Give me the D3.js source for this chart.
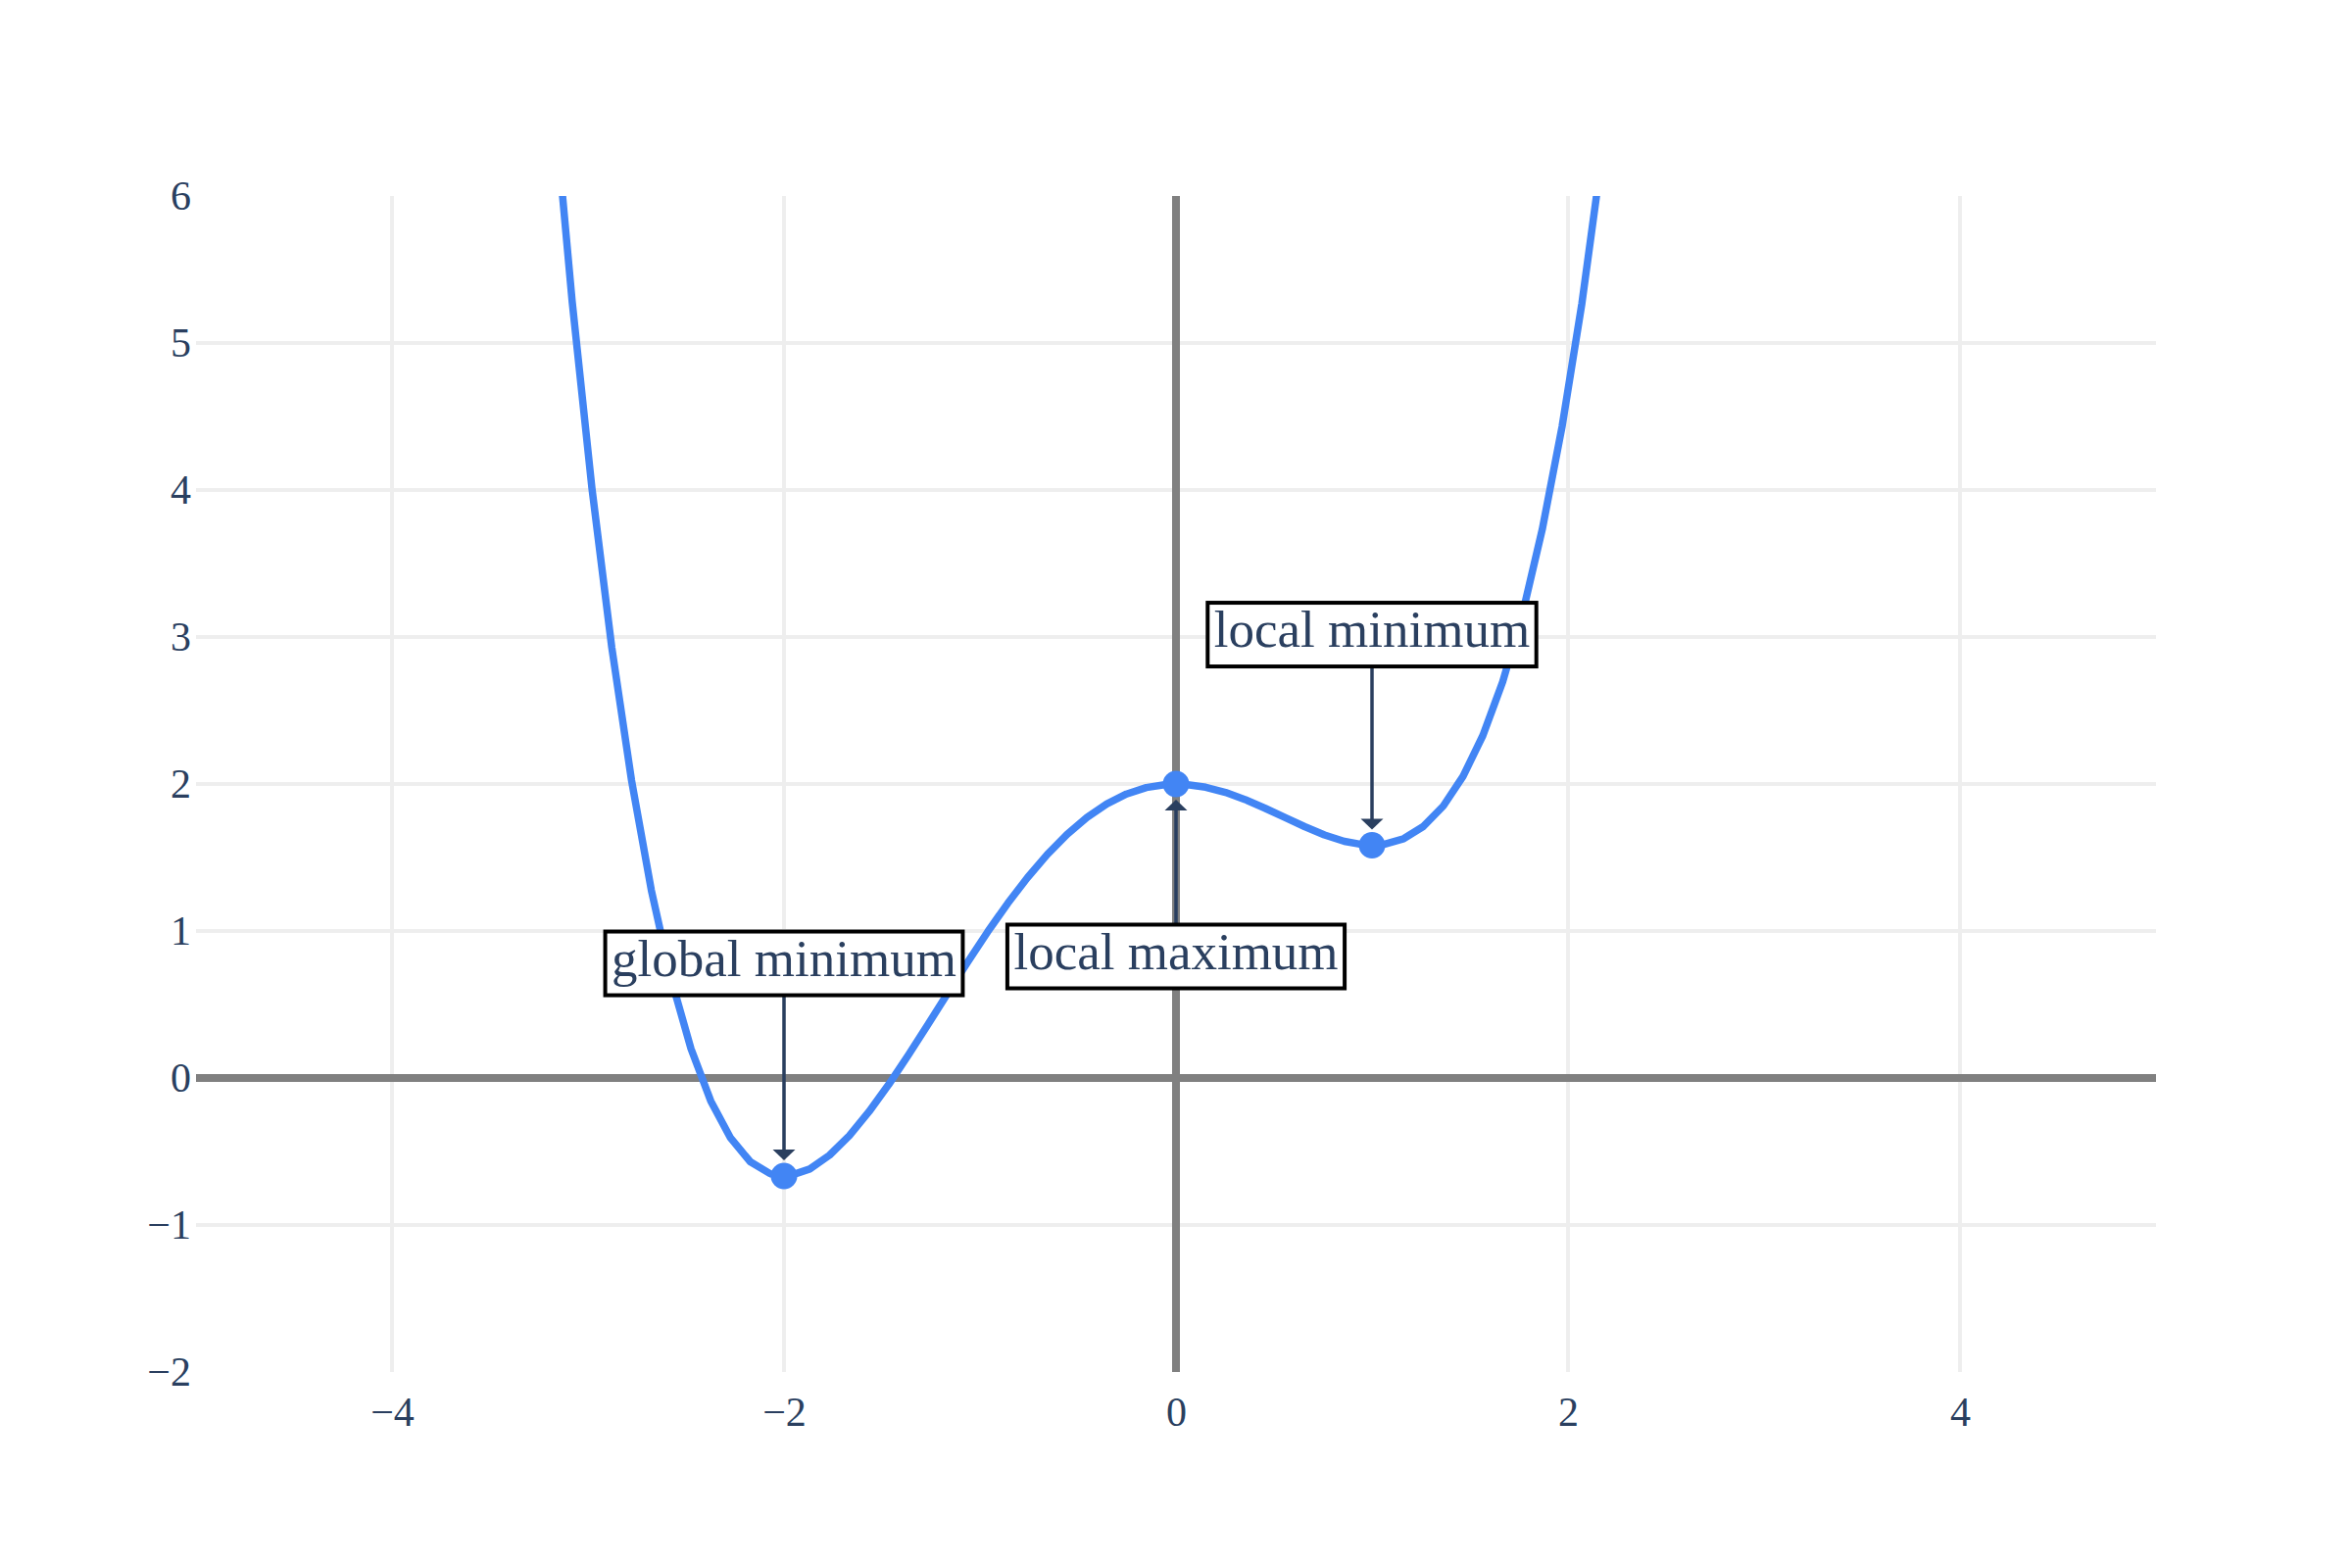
<!DOCTYPE html>
<html>
<head>
<meta charset="utf-8">
<script src="https://cdn.jsdelivr.net/npm/d3@7"></script>
<style>
  body { margin: 0; background: #fff; }
  text { font-family: "Liberation Serif", "DejaVu Serif", serif; }
</style>
</head>
<body>
<div id="chart"></div>
<script>

// curve samples
var xs = [-3.1818, -3.0808, -2.9798, -2.8788, -2.7778, -2.6768, -2.5758, -2.4747, -2.3737, -2.2727,
          -2.1717, -2.0707, -1.9697, -1.8687, -1.7677, -1.6667, -1.5657, -1.4646, -1.3636, -1.2626,
          -1.1616, -1.0606, -0.9596, -0.8586, -0.7576, -0.6566, -0.5556, -0.4545, -0.3535, -0.2525,
          -0.1515, -0.0505, 0.0505, 0.1515, 0.2525, 0.3535, 0.4545, 0.5556, 0.6566, 0.7576,
          0.8586, 0.9596, 1.0606, 1.1616, 1.2626, 1.3636, 1.4646, 1.5657, 1.6667, 1.7677,
          1.8687, 1.9697, 2.0707, 2.1717]
var ys = [6.762, 5.283, 4.011, 2.930, 2.024, 1.277, 0.674, 0.200, -0.156, -0.408,
          -0.570, -0.651, -0.664, -0.619, -0.525, -0.392, -0.228, -0.042, 0.160, 0.370,
          0.583, 0.794, 0.997, 1.188, 1.363, 1.521, 1.658, 1.773, 1.864, 1.932,
          1.976, 1.997, 1.997, 1.978, 1.943, 1.894, 1.835, 1.772, 1.710, 1.653,
          1.610, 1.586, 1.589, 1.628, 1.712, 1.850, 2.052, 2.330, 2.695, 3.157,
          3.732, 4.431, 5.268, 6.259]

// marked points and their notes
var pointX = [-2, 0, 1]
var pointY = [-0.667, 2, 1.583]
var notes = ["global minimum", "local maximum", "local minimum"]

var xTicks = [-4, -2, 0, 2, 4]
var yTicks = [-2, -1, 0, 1, 2, 3, 4, 5, 6]

// layout
var margin = {top: 200, right: 200, bottom: 200, left: 200},
    width = 2400 - margin.left - margin.right,
    height = 1600 - margin.top - margin.bottom;
var noteOffsets = [-217, 176, -215]   // box centre, px from the point
var blue = "#4285f4", ink = "#2a3f5f";

var svg = d3.select("#chart")
  .append("svg")
    .attr("width", width + margin.left + margin.right)
    .attr("height", height + margin.top + margin.bottom)
    .style("display", "block")
  .append("g")
    .attr("transform", "translate(" + margin.left + "," + margin.top + ")");

var x = d3.scaleLinear().domain([-5, 5]).range([0, width]);
var y = d3.scaleLinear().domain([-2, 6]).range([height, 0]);

svg.append("clipPath").attr("id", "plot-clip")
  .append("rect").attr("width", width).attr("height", height);

// grid (plotly leaves out the lines on the range edges)
svg.append("g")
  .selectAll("line")
  .data(xTicks.filter(d => d != 0))
  .enter().append("line")
    .attr("x1", d => x(d)).attr("x2", d => x(d))
    .attr("y1", 0).attr("y2", height)
    .attr("stroke", "#eeeeee").attr("stroke-width", 4);

svg.append("g")
  .selectAll("line")
  .data(yTicks.filter(d => d != 0 && d != -2 && d != 6))
  .enter().append("line")
    .attr("y1", d => y(d)).attr("y2", d => y(d))
    .attr("x1", 0).attr("x2", width)
    .attr("stroke", "#eeeeee").attr("stroke-width", 4);

// zero lines
svg.append("line")
  .attr("x1", x(0)).attr("x2", x(0)).attr("y1", 0).attr("y2", height)
  .attr("stroke", "#808080").attr("stroke-width", 8);
svg.append("line")
  .attr("x1", 0).attr("x2", width).attr("y1", y(0)).attr("y2", y(0))
  .attr("stroke", "#808080").attr("stroke-width", 8);

// axes
var xAxis = svg.append("g")
  .attr("transform", "translate(0," + height + ")")
  .call(d3.axisBottom(x).tickValues(xTicks).tickSize(0).tickPadding(25));
var yAxis = svg.append("g")
  .call(d3.axisLeft(y).tickValues(yTicks).tickSize(0).tickPadding(5));

[xAxis, yAxis].forEach(a => {
  a.select(".domain").remove();
  a.selectAll("text")
    .attr("fill", ink)
    .style("font-size", "42px")
    .style("font-family", '"Liberation Serif", "DejaVu Serif", serif');
});

// the curve
svg.append("path")
  .datum(xs.map((d, i) => [d, ys[i]]))
  .attr("clip-path", "url(#plot-clip)")
  .attr("fill", "none")
  .attr("stroke", blue)
  .attr("stroke-width", 7.5)
  .attr("stroke-linejoin", "round")
  .attr("d", d3.line().x(d => x(d[0])).y(d => y(d[1])));

svg.append("g")
  .selectAll("circle")
  .data(pointX)
  .enter().append("circle")
    .attr("cx", d => x(d))
    .attr("cy", (d, i) => y(pointY[i]))
    .attr("r", 13.5)
    .attr("fill", blue);

// notes with arrows
var boxH = 65, headH = 11, headW = 11.5, gap = 16;

notes.forEach((txt, i) => {
  var px = x(pointX[i]), py = y(pointY[i]);
  var off = noteOffsets[i];
  var cy = py + off;
  var dir = off < 0 ? 1 : -1;   // 1 = arrow points down
  var start = cy + dir * boxH / 2;
  var tip = py - dir * gap;

  var g = svg.append("g");
  g.append("line")
    .attr("x1", px).attr("x2", px)
    .attr("y1", start).attr("y2", tip - dir * (headH - 1))
    .attr("stroke", ink).attr("stroke-width", 3.5);
  g.append("path")
    .attr("d", "M" + px + "," + tip +
               "L" + (px - headW) + "," + (tip - dir * headH) +
               "L" + (px + headW) + "," + (tip - dir * headH) + "Z")
    .attr("fill", ink);

  var label = g.append("text")
    .attr("x", px).attr("y", cy + 12.5)
    .attr("text-anchor", "middle")
    .attr("fill", ink)
    .style("font-size", "53px")
    .text(txt);
  var tl = label.node().getComputedTextLength();

  g.insert("rect", "text")
    .attr("x", px - (tl + 13) / 2)
    .attr("y", cy - boxH / 2)
    .attr("width", tl + 13)
    .attr("height", boxH)
    .attr("fill", "#fff")
    .attr("stroke", "#000")
    .attr("stroke-width", 4);
});

</script>
</body>
</html>
